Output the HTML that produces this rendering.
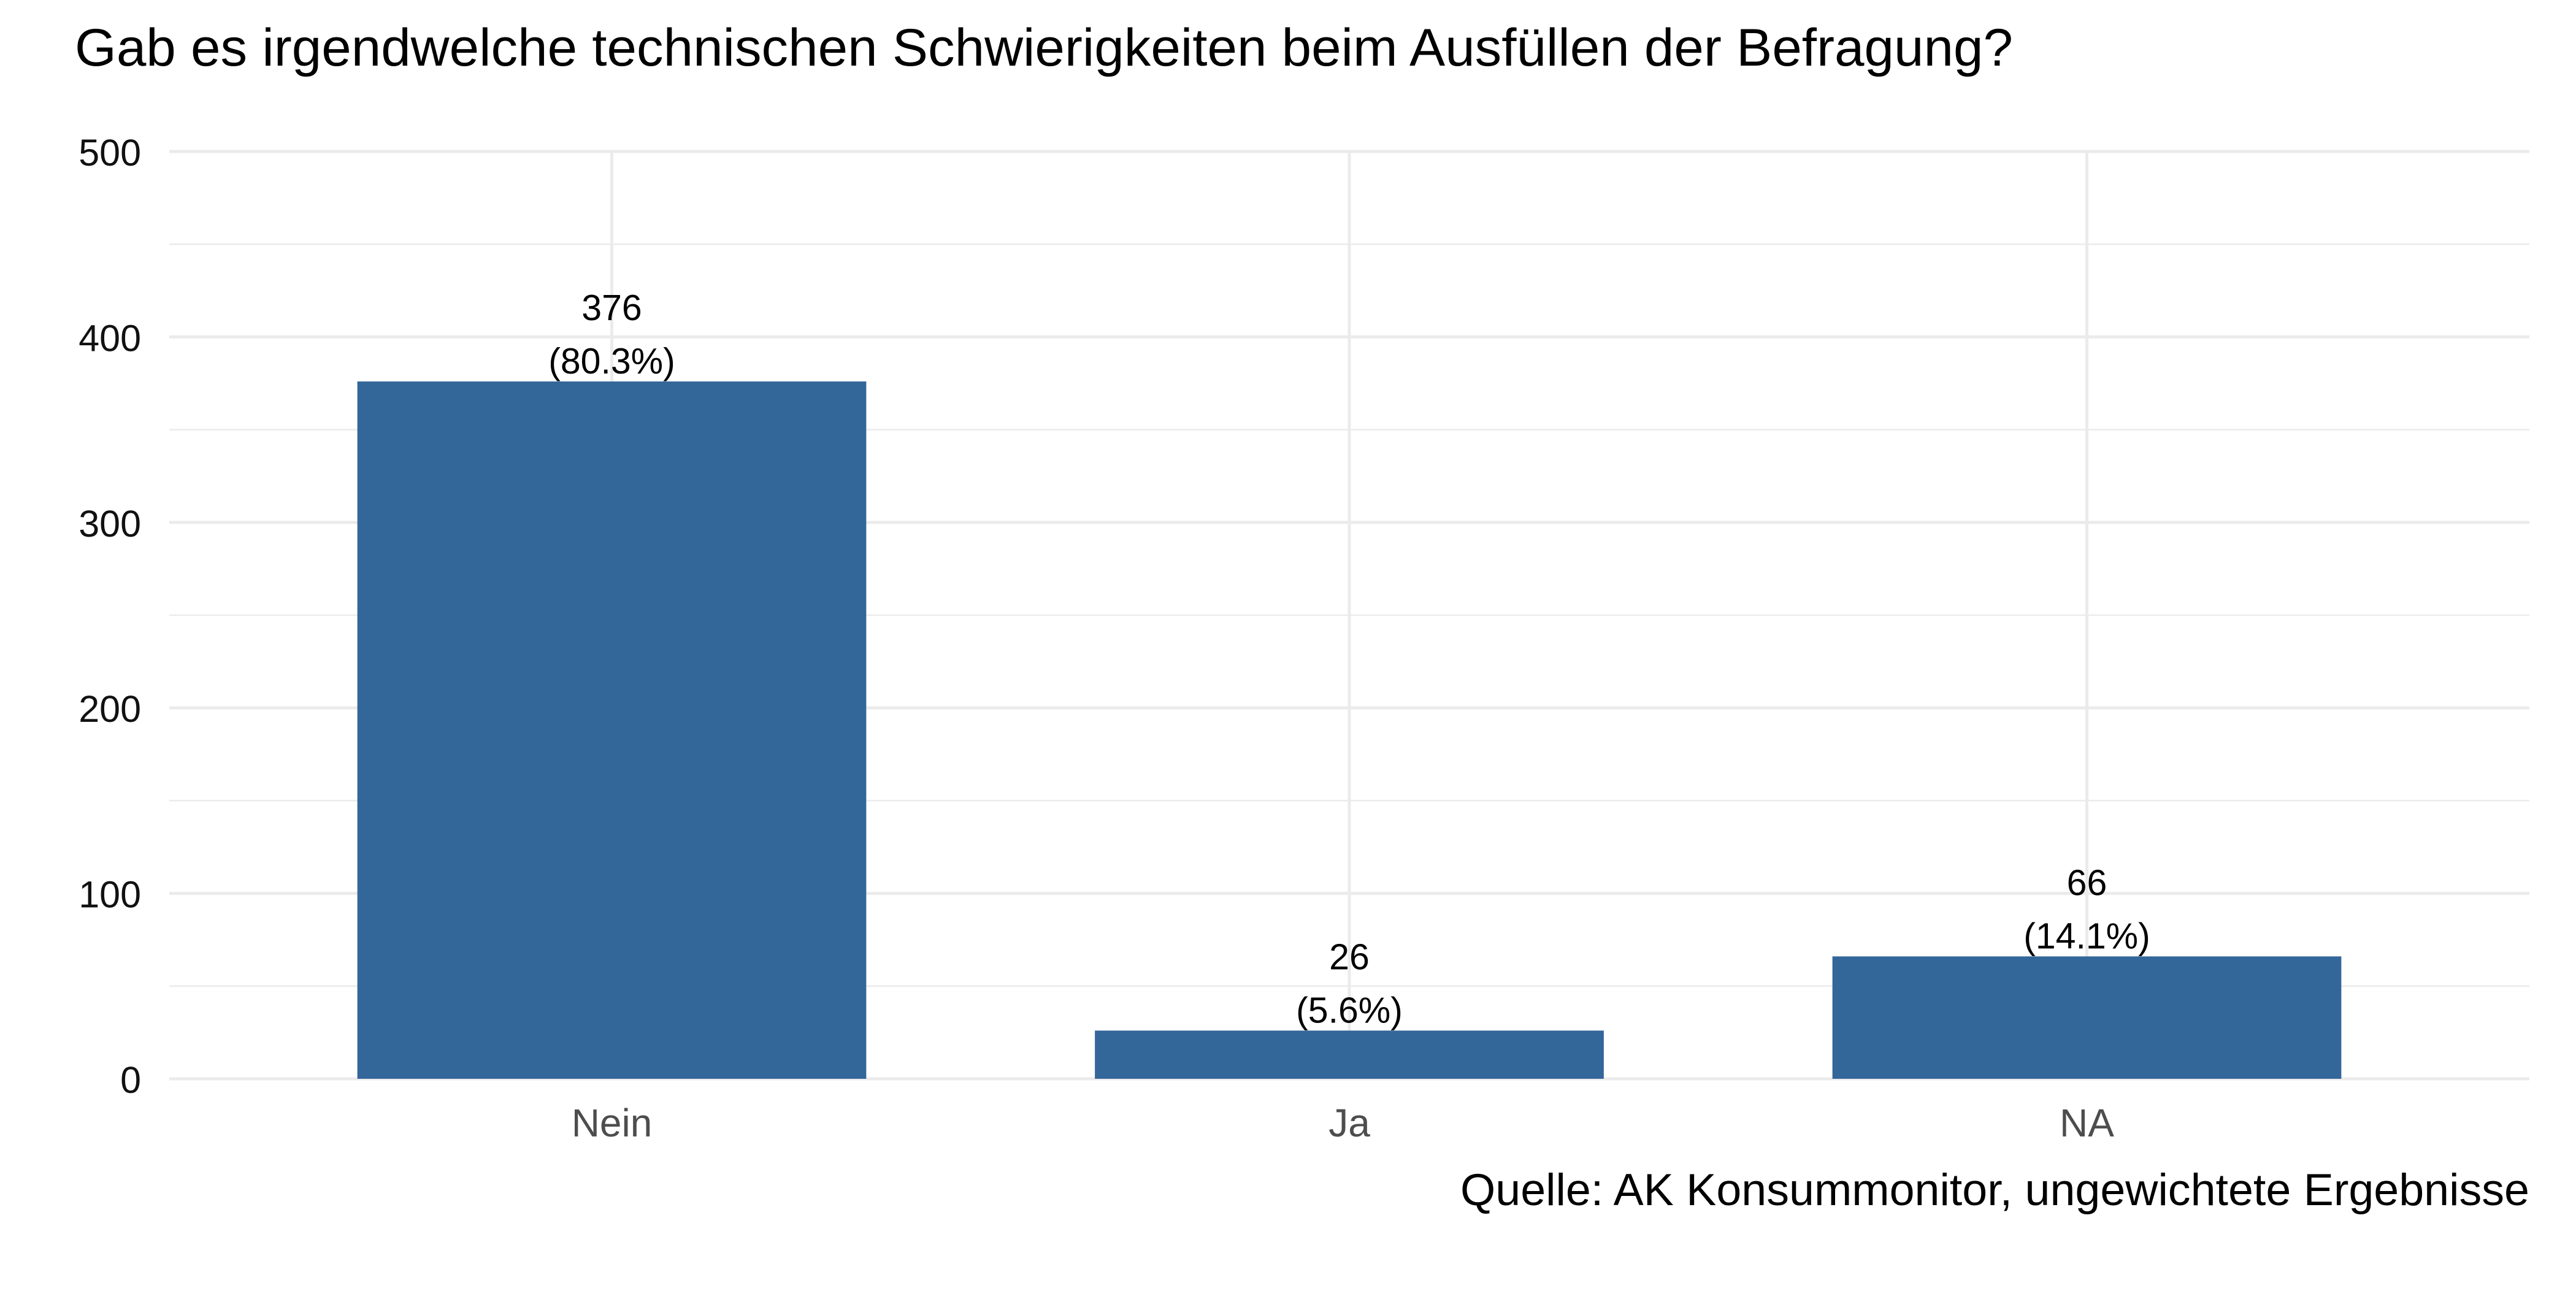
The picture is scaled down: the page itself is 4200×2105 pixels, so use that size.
<!DOCTYPE html>
<html><head><meta charset="utf-8"><style>
html,body{margin:0;padding:0;background:#fff;}
svg text{font-family:"Liberation Sans",sans-serif;}
</style></head><body>
<svg id="chart" width="4200" height="2100" viewBox="0 0 4200 2100" xmlns="http://www.w3.org/2000/svg">
<text x="122" y="107" font-size="86" textLength="3160" lengthAdjust="spacingAndGlyphs" fill="#000">Gab es irgendwelche technischen Schwierigkeiten beim Ausfüllen der Befragung?</text>
<g id="grid"></g>
<g id="bars"></g>
<g id="labels"></g>
<text x="4124" y="1965" font-size="73" text-anchor="end" textLength="1743" lengthAdjust="spacingAndGlyphs" fill="#000">Quelle: AK Konsummonitor, ungewichtete Ergebnisse</text>
</svg>
<script>
const categories = ["Nein", "Ja", "NA"];
const counts = [376, 26, 66];
const percents = ["(80.3%)", "(5.6%)", "(14.1%)"];
const yTicks = [0, 100, 200, 300, 400, 500];
const yMinor = [50, 150, 250, 350, 450];

const NS = "http://www.w3.org/2000/svg";
const left = 276, right = 4124, y0 = 1759, yTop = 247, yMax = 500;
const y = v => y0 - (v / yMax) * (y0 - yTop);
const unit = (right - left) / (categories.length + 0.2);
const x = i => left + unit * (0.6 + i);
const barW = unit * 0.69;

function mk(tag, attrs, parent){const e=document.createElementNS(NS,tag);for(const k in attrs)e.setAttribute(k,attrs[k]);parent.appendChild(e);return e;}
const grid = document.getElementById("grid"), bars = document.getElementById("bars"), labels = document.getElementById("labels");

yMinor.forEach(v=>{
  const l = mk("line",{x1:left,x2:right,y1:y(v),y2:y(v),stroke:"#ebebeb","stroke-width":2.5},grid);
  
  
});
yTicks.forEach(v=>{
  const l = mk("line",{x1:left,x2:right,y1:y(v),y2:y(v),stroke:"#ebebeb","stroke-width":5},grid);
  
  
  const t = mk("text",{x:230,y:y(v)+23,"font-size":61,"text-anchor":"end",fill:"#111"},labels);
  t.textContent = v;
  
  
});
categories.forEach((c,i)=>{
  const l = mk("line",{x1:x(i),x2:x(i),y1:yTop,y2:y0,stroke:"#ebebeb","stroke-width":5},grid);
  
  
  const r = mk("rect",{x:x(i)-barW/2,y:y(counts[i]),width:barW,height:y0-y(counts[i]),fill:"#336699"},bars);
  
  
  const t1 = mk("text",{x:x(i),y:y(counts[i])-100,"font-size":59,"text-anchor":"middle",fill:"#000"},labels);
  t1.textContent = counts[i];
  
  
  const t2 = mk("text",{x:x(i),y:y(counts[i])-13,"font-size":59,"text-anchor":"middle",fill:"#000"},labels);
  t2.textContent = percents[i];
  
  
  const t3 = mk("text",{x:x(i),y:1853,"font-size":64,"text-anchor":"middle",fill:"#4d4d4d"},labels);
  t3.textContent = c;
  
  
});
</script>
</body></html>
